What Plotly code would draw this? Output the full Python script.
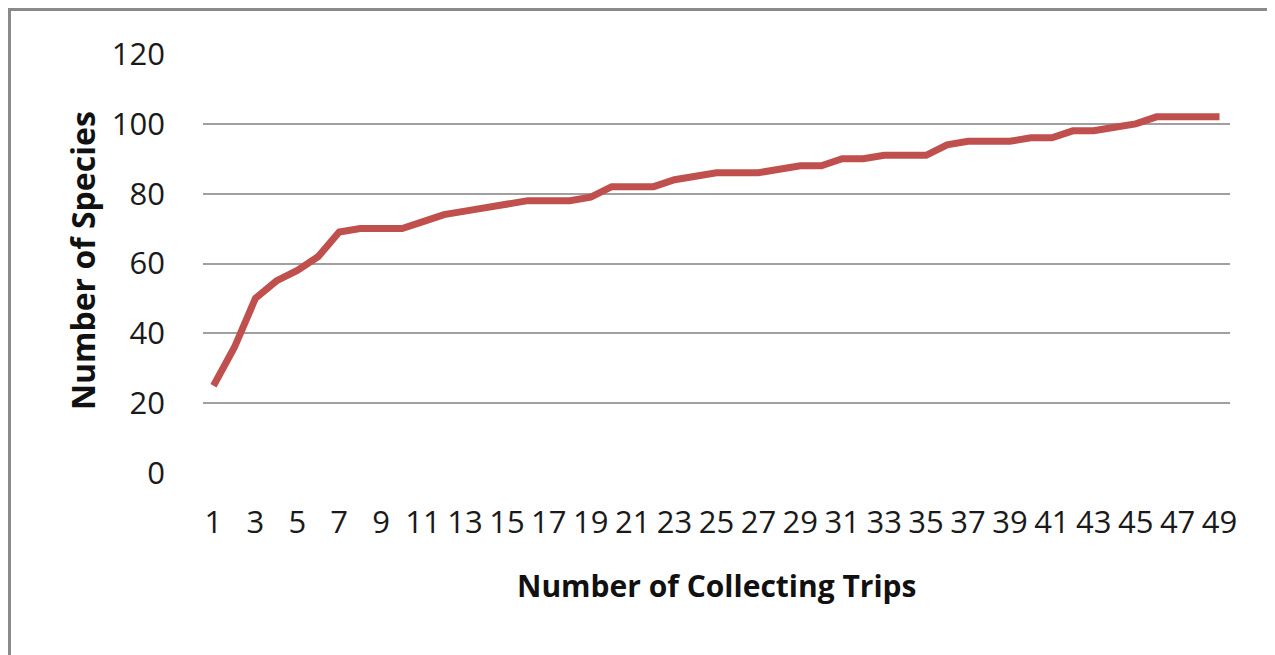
import plotly.graph_objects as go

trips = list(range(1, 50))
species = [25, 36, 50, 55, 58, 62, 69, 70, 70, 70,
           72, 74, 75, 76, 77, 78, 78, 78, 79, 82,
           82, 82, 84, 85, 86, 86, 86, 87, 88, 88,
           90, 90, 91, 91, 91, 94, 95, 95, 95, 96,
           96, 98, 98, 99, 100, 102, 102, 102, 102]
x_ticks = list(range(1, 50, 2))
y_ticks = [0, 20, 40, 60, 80, 100, 120]
x_title = "Number of Collecting Trips"
y_title = "Number of Species"

# page offset (browser body margin)
OFF = 8
W, H = 1275, 655
L, R, T, B = 203 - OFF, 45 + OFF, 54 - OFF, 182 + OFF
pw, ph = W - L - R, H - T - B

def px(x):
    # x given in page pixels
    return (x - OFF - L) / pw

def py(y):
    return (H - B - (y - OFF)) / ph

FONT = "Open Sans"

fig = go.Figure()
fig.add_trace(go.Scatter(
    x=trips, y=species, mode="lines",
    line=dict(color="#c0504d", width=7),
    hoverinfo="x+y", showlegend=False,
))

fig.update_layout(
    width=W, height=H,
    margin=dict(l=L, r=R, t=T, b=B),
    paper_bgcolor="white", plot_bgcolor="white",
    font=dict(family=FONT, color="#1a1a1a"),
    xaxis=dict(
        range=[0.5, 49.5], tickmode="array", tickvals=x_ticks,
        ticktext=[str(v) for v in x_ticks], tickangle=0,
        showgrid=False, zeroline=False, showline=False, ticks="",
        tickfont=dict(size=31, family=FONT, color="#1a1a1a"),
        ticklabelstandoff=28,
    ),
    yaxis=dict(
        range=[0, 120], tickmode="array", tickvals=y_ticks,
        showgrid=True, gridcolor="#a0a0a0", gridwidth=2,
        zeroline=False, showline=False, ticks="",
        tickfont=dict(size=31, family=FONT, color="#1a1a1a"),
        ticklabelstandoff=37,
    ),
    annotations=[
        dict(text=f"<b>{x_title}</b>", xref="paper", yref="paper",
             x=px(717), y=py(585), showarrow=False,
             font=dict(size=30, family=FONT, color="#111"),
             xanchor="center", yanchor="middle"),
        dict(text=f"<b>{y_title}</b>", xref="paper", yref="paper",
             x=px(82), y=py(261), showarrow=False, textangle=-90,
             font=dict(size=32, family=FONT, color="#111"),
             xanchor="center", yanchor="middle"),
    ],
    shapes=[
        dict(type="line", xref="paper", yref="paper",
             x0=px(9.5), x1=px(W + 20), y0=py(9.5), y1=py(9.5),
             line=dict(color="#8a8a8a", width=3)),
        dict(type="line", xref="paper", yref="paper",
             x0=px(9.5), x1=px(9.5), y0=py(8), y1=py(H + 20),
             line=dict(color="#8a8a8a", width=3)),
    ],
)

fig.write_html("out.html")
